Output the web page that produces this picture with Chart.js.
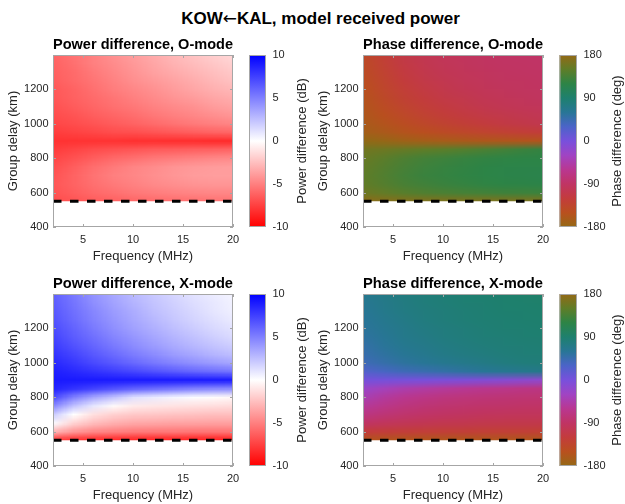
<!DOCTYPE html>
<html>
<head>
<meta charset="utf-8">
<script src="https://cdn.jsdelivr.net/npm/chart.js@4.4.1/dist/chart.umd.min.js"></script>
<style>
body { margin: 0; background: #fff; }
#wrap { position: relative; width: 625px; height: 504px; overflow: hidden; }
#wrap canvas { position: absolute; left: 0; top: 0; }
#suptitle { position: absolute; left: 8px; top: 8px; width: 625px; text-align: center; line-height: 20px;
  font: bold 17px 'Liberation Sans', Arial, Helvetica, sans-serif; color: #000; }
#suptitle span { font-family: 'DejaVu Sans', sans-serif; font-weight: normal; }
</style>
</head>
<body>
<div id="wrap"><div id="suptitle">KOW<span>←</span>KAL, model received power</div></div>
<script>
// grid: columns = frequency (MHz), rows = group delay (km), top row first
const freqs = [2, 4, 6, 8, 10, 12, 14, 16, 18, 20];
const delays = [1400, 1350, 1300, 1250, 1200, 1150, 1100, 1050, 1000, 950, 900, 850, 800, 750, 700, 650, 600, 550];
const cutoffDelay = 550;

const xTicks = [5, 10, 15, 20];
const yTicks = [400, 600, 800, 1000, 1200];
const powerTicks = [-10, -5, 0, 5, 10];
const phaseTicks = [-180, -90, 0, 90, 180];

// power difference, O-mode (dB)
const powerO = [
  [-6.0, -5.5, -4.9, -4.3, -3.8, -3.3, -2.8, -2.3, -1.9, -1.5],
  [-6.1, -5.6, -5.0, -4.5, -4.0, -3.5, -3.0, -2.6, -2.2, -1.8],
  [-6.2, -5.8, -5.2, -4.7, -4.2, -3.7, -3.3, -2.9, -2.5, -2.1],
  [-6.3, -5.9, -5.4, -4.9, -4.4, -4.0, -3.6, -3.2, -2.8, -2.4],
  [-6.5, -6.1, -5.6, -5.1, -4.7, -4.3, -3.9, -3.5, -3.1, -2.8],
  [-6.6, -6.2, -5.8, -5.4, -5.0, -4.6, -4.2, -3.9, -3.5, -3.2],
  [-6.8, -6.4, -6.0, -5.6, -5.3, -4.9, -4.6, -4.3, -3.9, -3.6],
  [-7.0, -6.7, -6.3, -6.0, -5.7, -5.3, -5.0, -4.7, -4.4, -4.1],
  [-7.2, -7.0, -6.7, -6.4, -6.1, -5.8, -5.5, -5.2, -5.0, -4.8],
  [-7.6, -7.4, -7.2, -7.0, -6.9, -6.7, -6.5, -6.3, -6.1, -6.0],
  [-8.0, -8.0, -8.0, -8.0, -8.1, -8.1, -8.2, -8.2, -8.3, -8.3],
  [-7.6, -7.3, -7.0, -6.8, -6.6, -6.4, -6.3, -6.2, -6.1, -6.0],
  [-7.2, -6.8, -6.3, -5.9, -5.6, -5.3, -5.1, -4.9, -4.7, -4.6],
  [-6.9, -6.3, -5.7, -5.2, -4.8, -4.5, -4.2, -4.0, -3.9, -3.8],
  [-6.7, -6.1, -5.5, -5.0, -4.7, -4.4, -4.1, -3.9, -3.8, -3.8],
  [-6.6, -6.1, -5.6, -5.2, -4.9, -4.6, -4.4, -4.2, -4.1, -4.1],
  [-6.7, -6.3, -5.9, -5.6, -5.3, -5.1, -4.9, -4.8, -4.7, -4.7],
  [-7.0, -6.7, -6.4, -6.2, -6.0, -5.8, -5.7, -5.6, -5.5, -5.5]
];

// power difference, X-mode (dB)
const powerX = [
  [6.2, 5.2, 4.2, 3.4, 2.7, 2.1, 1.6, 1.1, 0.7, 0.4],
  [6.3, 5.4, 4.4, 3.6, 2.9, 2.3, 1.8, 1.3, 0.9, 0.5],
  [6.5, 5.6, 4.7, 3.9, 3.2, 2.5, 2.0, 1.5, 1.0, 0.6],
  [6.7, 5.8, 4.9, 4.1, 3.4, 2.8, 2.2, 1.7, 1.2, 0.8],
  [7.0, 6.1, 5.2, 4.4, 3.7, 3.1, 2.5, 2.0, 1.5, 1.1],
  [7.3, 6.4, 5.6, 4.8, 4.1, 3.5, 2.9, 2.4, 1.9, 1.4],
  [7.6, 6.8, 6.0, 5.2, 4.5, 3.9, 3.3, 2.8, 2.3, 1.9],
  [8.0, 7.3, 6.5, 5.8, 5.1, 4.5, 3.9, 3.4, 2.9, 2.5],
  [8.4, 7.8, 7.1, 6.5, 5.9, 5.3, 4.8, 4.3, 3.9, 3.5],
  [8.8, 8.4, 8.0, 7.6, 7.2, 6.8, 6.4, 6.0, 5.7, 5.4],
  [9.0, 9.0, 9.0, 9.0, 9.0, 9.0, 9.0, 9.0, 9.0, 9.0],
  [8.6, 8.0, 7.4, 6.8, 6.2, 5.8, 5.4, 5.0, 4.7, 4.5],
  [7.0, 5.0, 3.5, 2.4, 1.2, 0.8, 0.4, 0.1, -0.1, -0.3],
  [4.6, 2.4, 0.9, -0.2, -0.8, -1.0, -1.1, -1.2, -1.3, -1.4],
  [2.0, 0.0, -1.2, -1.8, -2.1, -2.2, -2.3, -2.4, -2.5, -2.5],
  [0.2, -1.7, -2.6, -3.1, -3.4, -3.5, -3.6, -3.6, -3.7, -3.7],
  [-3.0, -4.1, -4.7, -5.0, -5.2, -5.3, -5.3, -5.4, -5.4, -5.4],
  [-8.0, -8.3, -8.5, -8.6, -8.7, -8.8, -8.8, -8.9, -8.9, -8.9]
];

// phase difference, O-mode (deg)
const phaseO = [
  [-140, -125, -112, -104, -98, -95, -92, -90, -89, -88],
  [-142, -127, -114, -106, -100, -96, -93, -91, -90, -89],
  [-144, -130, -117, -108, -102, -98, -95, -92, -91, -90],
  [-147, -133, -120, -111, -105, -100, -97, -94, -93, -91],
  [-150, -136, -124, -115, -108, -103, -99, -96, -94, -92],
  [-153, -140, -128, -119, -112, -107, -102, -99, -96, -94],
  [-156, -144, -133, -124, -117, -111, -106, -102, -99, -97],
  [-159, -149, -139, -130, -123, -117, -112, -108, -104, -101],
  [-163, -155, -146, -138, -131, -125, -119, -114, -110, -106],
  [-168, -162, -155, -149, -143, -138, -133, -129, -125, -122],
  [178, -178, -172, -168, -165, -162, -160, -158, -156, -155],
  [160, 158, 154, 150, 147, 143, 138, 133, 128, 124],
  [155, 148, 140, 134, 130, 126, 123, 121, 120, 120],
  [152, 144, 136, 130, 126, 123, 120, 118, 117, 117],
  [150, 142, 134, 128, 125, 122, 119, 117, 116, 115],
  [151, 144, 137, 132, 128, 125, 122, 120, 119, 118],
  [158, 152, 146, 141, 138, 135, 133, 131, 130, 129],
  [175, 172, 170, 169, 168, 168, 168, 167, 167, 167]
];

// phase difference, X-mode (deg)
const phaseX = [
  [65, 72, 77, 81, 84, 87, 89, 91, 92, 93],
  [63, 70, 76, 80, 83, 86, 88, 90, 91, 92],
  [61, 68, 74, 79, 82, 85, 87, 89, 90, 91],
  [59, 66, 72, 77, 81, 84, 86, 88, 89, 90],
  [57, 64, 70, 75, 79, 82, 85, 87, 88, 89],
  [54, 61, 68, 73, 77, 80, 83, 85, 87, 88],
  [50, 58, 65, 70, 74, 78, 81, 83, 85, 86],
  [46, 54, 61, 66, 71, 75, 78, 81, 83, 84],
  [40, 48, 55, 60, 65, 69, 73, 77, 80, 82],
  [25, 33, 40, 45, 50, 55, 60, 64, 67, 70],
  [2, 2, 1, 0, -2, -4, -7, -10, -14, -18],
  [-25, -35, -43, -49, -54, -58, -62, -65, -68, -70],
  [-40, -52, -61, -67, -72, -75, -77, -79, -80, -81],
  [-55, -65, -73, -78, -82, -84, -86, -87, -88, -89],
  [-70, -78, -84, -88, -91, -93, -95, -96, -97, -97],
  [-90, -96, -100, -103, -105, -106, -107, -108, -108, -109],
  [-120, -122, -123, -124, -125, -125, -126, -126, -126, -127],
  [-155, -156, -157, -157, -158, -158, -158, -158, -158, -158]
];

// colour maps: [value, r, g, b]
const powerStops = [[-10, 255, 0, 0], [0, 255, 255, 255], [10, 0, 0, 255]];
const phaseStops = [
  [-180, 148, 105, 22], [-150, 185, 80, 30], [-120, 195, 60, 60], [-90, 192, 52, 100],
  [-60, 185, 55, 145], [-30, 160, 68, 195], [0, 120, 80, 220], [30, 75, 100, 200],
  [60, 40, 118, 150], [90, 30, 128, 110], [120, 45, 132, 70], [150, 95, 125, 40],
  [180, 148, 105, 22]
];

const FONT = "'Liberation Sans', Arial, Helvetica, sans-serif";
const TXT = '#262626';
const BOX = '#a6a6a6';
const wrap = document.getElementById('wrap');

function colorAt(stops, v) {
  if (v <= stops[0][0]) return stops[0].slice(1);
  for (let k = 1; k < stops.length; k++) {
    if (v <= stops[k][0]) {
      const a = stops[k - 1], b = stops[k];
      const t = (v - a[0]) / (b[0] - a[0]);
      return [1, 2, 3].map(c => Math.round(a[c] + (b[c] - a[c]) * t));
    }
  }
  return stops[stops.length - 1].slice(1);
}

// heat map drawn under the datasets, placed with the chart's own scales
const heatmapPlugin = {
  id: 'heatmap',
  beforeDatasetsDraw(chart, args, opts) {
    const { ctx, chartArea, scales: { x, y } } = chart;
    const nx = freqs.length, ny = delays.length;
    const off = document.createElement('canvas');
    off.width = nx; off.height = ny;
    const octx = off.getContext('2d');
    const img = octx.createImageData(nx, ny);
    for (let j = 0; j < ny; j++) {
      for (let i = 0; i < nx; i++) {
        const c = colorAt(opts.stops, opts.grid[j][i]);
        const k = (j * nx + i) * 4;
        img.data[k] = c[0]; img.data[k + 1] = c[1]; img.data[k + 2] = c[2]; img.data[k + 3] = 255;
      }
    }
    octx.putImageData(img, 0, 0);
    const df = freqs[1] - freqs[0], dd = delays[0] - delays[1];
    const left = x.getPixelForValue(freqs[0] - df / 2);
    const right = x.getPixelForValue(freqs[nx - 1] + df / 2);
    const top = y.getPixelForValue(delays[0] + dd / 2);
    const bottom = y.getPixelForValue(delays[ny - 1] - dd / 2);
    const cx0 = x.getPixelForValue(freqs[0]), cx1 = x.getPixelForValue(freqs[nx - 1]);
    const cy0 = Math.max(chartArea.top, y.getPixelForValue(delays[0]));
    const cy1 = y.getPixelForValue(delays[ny - 1]);
    ctx.save();
    ctx.beginPath();
    ctx.rect(cx0, cy0, cx1 - cx0, cy1 - cy0);
    ctx.clip();
    ctx.imageSmoothingEnabled = true;
    ctx.imageSmoothingQuality = 'low';
    ctx.drawImage(off, left, top, right - left, bottom - top);
    ctx.restore();
  }
};

// box with inward tick marks, like the original axes
const axesBoxPlugin = {
  id: 'axesBox',
  afterDraw(chart) {
    const { ctx, chartArea: a, scales: { x, y } } = chart;
    ctx.save();
    ctx.strokeStyle = BOX;
    ctx.lineWidth = 1;
    ctx.strokeRect(Math.round(a.left) + 0.5, Math.round(a.top) + 0.5, Math.round(a.right - a.left) - 1, Math.round(a.bottom - a.top) - 1);
    ctx.beginPath();
    x.ticks.forEach(t => {
      const px = Math.round(x.getPixelForValue(t.value)) + 0.5;
      ctx.moveTo(px, a.bottom); ctx.lineTo(px, a.bottom - 3);
      ctx.moveTo(px, a.top); ctx.lineTo(px, a.top + 3);
    });
    y.ticks.forEach(t => {
      const py = Math.round(y.getPixelForValue(t.value)) + 0.5;
      ctx.moveTo(a.left, py); ctx.lineTo(a.left + 3, py);
      ctx.moveTo(a.right, py); ctx.lineTo(a.right - 3, py);
    });
    ctx.stroke();
    ctx.restore();
  }
};

const colorbarPlugin = {
  id: 'colorbar',
  beforeDraw(chart, args, opts) {
    const { ctx, chartArea: a, scales: { y } } = chart;
    const g = ctx.createLinearGradient(0, a.bottom, 0, a.top);
    opts.stops.forEach(s => {
      g.addColorStop((s[0] - y.min) / (y.max - y.min), 'rgb(' + s[1] + ',' + s[2] + ',' + s[3] + ')');
    });
    ctx.save();
    ctx.fillStyle = g;
    ctx.fillRect(a.left, a.top, a.right - a.left, a.bottom - a.top);
    ctx.strokeStyle = BOX;
    ctx.strokeRect(a.left + 0.5, a.top + 0.5, a.right - a.left - 1, a.bottom - a.top - 1);
    ctx.restore();
  },
  afterDraw(chart, args, opts) {
    const { ctx, chartArea: a } = chart;
    ctx.save();
    ctx.translate(a.right + opts.labelOffset, (a.top + a.bottom) / 2);
    ctx.rotate(-Math.PI / 2);
    ctx.fillStyle = TXT;
    ctx.font = '13px ' + FONT;
    ctx.textAlign = 'center';
    ctx.textBaseline = 'middle';
    ctx.fillText(opts.label, 0, 0);
    ctx.restore();
  }
};

function newCanvas() {
  const cv = document.createElement('canvas');
  cv.width = 625; cv.height = 504;
  wrap.appendChild(cv);
  return cv;
}

function setTicks(list) {
  return s => { s.ticks = list.map(v => ({ value: v })); };
}

function makePanel(p) {
  new Chart(newCanvas(), {
    type: 'scatter',
    data: {
      datasets: [{
        data: [{ x: freqs[0], y: cutoffDelay }, { x: freqs[freqs.length - 1], y: cutoffDelay }],
        showLine: true,
        borderColor: '#000',
        borderWidth: 3,
        borderDash: [8.5, 8.5],
        pointRadius: 0
      }]
    },
    options: {
      responsive: false,
      animation: false,
      devicePixelRatio: 1,
      layout: { padding: { left: p.left - 53, right: 625 - p.right, top: p.top - 19, bottom: 504 - p.bottom - 40 } },
      plugins: {
        legend: { display: false },
        tooltip: { enabled: false },
        title: { display: true, fullSize: false, text: p.title, color: '#000', font: { family: FONT, size: 15, weight: 'bold' }, padding: { top: 0, bottom: 1 } },
        heatmap: { grid: p.grid, stops: p.stops }
      },
      scales: {
        x: {
          type: 'linear', min: 2, max: 20,
          afterBuildTicks: setTicks(xTicks),
          afterFit: s => { s.height = 40; s.paddingLeft = 0; s.paddingRight = 0; },
          grid: { display: false, drawTicks: false }, border: { display: false },
          ticks: { color: TXT, font: { family: FONT, size: 11 }, padding: 6.4, maxRotation: 0, callback: v => String(v) },
          title: { display: true, text: 'Frequency (MHz)', color: TXT, font: { family: FONT, size: 13 }, padding: { top: 0, bottom: 3.2 } }
        },
        y: {
          type: 'linear', min: 400, max: 1398,
          afterBuildTicks: setTicks(yTicks),
          afterFit: s => { s.width = 53; },
          grid: { display: false, drawTicks: false }, border: { display: false },
          ticks: { color: TXT, font: { family: FONT, size: 11 }, padding: 4.5, callback: v => String(v) },
          title: { display: true, text: 'Group delay (km)', color: TXT, font: { family: FONT, size: 13 }, padding: { top: 5.2, bottom: 0 } }
        }
      }
    },
    plugins: [heatmapPlugin, axesBoxPlugin]
  });
}

function makeColorbar(p) {
  new Chart(newCanvas(), {
    type: 'scatter',
    data: { datasets: [] },
    options: {
      responsive: false,
      animation: false,
      devicePixelRatio: 1,
      layout: { padding: { left: p.cbLeft, right: 625 - p.cbRight - 40, top: p.top, bottom: 504 - p.bottom } },
      plugins: {
        legend: { display: false },
        tooltip: { enabled: false },
        colorbar: { stops: p.stops, label: p.cbLabel, labelOffset: p.cbLabelOffset }
      },
      scales: {
        x: { display: false, min: 0, max: 1 },
        y: {
          position: 'right',
          min: p.cbTicks[0], max: p.cbTicks[p.cbTicks.length - 1],
          afterBuildTicks: setTicks(p.cbTicks),
          afterFit: s => { s.width = 40; },
          grid: { display: false, drawTicks: false }, border: { display: false },
          ticks: { color: TXT, font: { family: FONT, size: 11 }, padding: 6.5, callback: v => String(v) }
        }
      }
    },
    plugins: [colorbarPlugin]
  });
}

const panels = [
  { title: 'Power difference, O-mode', grid: powerO, stops: powerStops, cbTicks: powerTicks, cbLabel: 'Power difference (dB)', cbLabelOffset: 36,
    left: 53, right: 233, top: 55, bottom: 227, cbLeft: 249, cbRight: 266 },
  { title: 'Phase difference, O-mode', grid: phaseO, stops: phaseStops, cbTicks: phaseTicks, cbLabel: 'Phase difference (deg)', cbLabelOffset: 40,
    left: 363, right: 543, top: 55, bottom: 227, cbLeft: 559.5, cbRight: 577 },
  { title: 'Power difference, X-mode', grid: powerX, stops: powerStops, cbTicks: powerTicks, cbLabel: 'Power difference (dB)', cbLabelOffset: 36,
    left: 53, right: 233, top: 294, bottom: 466, cbLeft: 249, cbRight: 266 },
  { title: 'Phase difference, X-mode', grid: phaseX, stops: phaseStops, cbTicks: phaseTicks, cbLabel: 'Phase difference (deg)', cbLabelOffset: 40,
    left: 363, right: 543, top: 294, bottom: 466, cbLeft: 559.5, cbRight: 577 }
];

panels.forEach(p => { makePanel(p); makeColorbar(p); });
</script>
</body>
</html>
